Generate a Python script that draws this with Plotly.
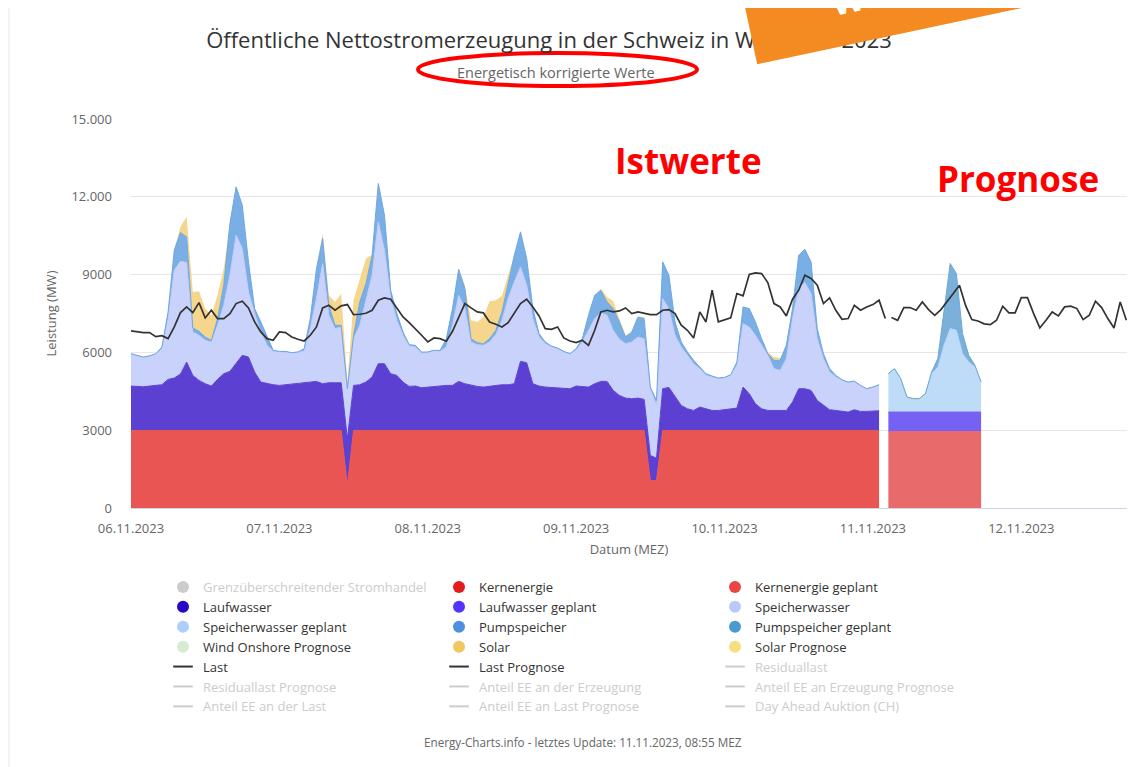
import pandas as pd
import plotly.graph_objects as go

# ---------------- data (MW, hourly, from 06.11.2023 00:00) ----------------
KERNENERGIE = [
    2990, 2990, 2990, 2990, 2990, 2990, 2990, 2990, 2990, 2990, 2990, 2990,
    2990, 2990, 2990, 2990, 2990, 2990, 2990, 2990, 2990, 2990, 2990, 2990,
    2990, 2990, 2990, 2990, 2990, 2990, 2990, 2990, 2990, 2990, 2990, 870,
    2990, 2990, 2990, 2990, 2990, 2990, 2990, 2990, 2990, 2990, 2990, 2990,
    2990, 2990, 2990, 2990, 2990, 2990, 2990, 2990, 2990, 2990, 2990, 2990,
    2990, 2990, 2990, 2990, 2990, 2990, 2990, 2990, 2990, 2990, 2990, 2990,
    2990, 2990, 2990, 2990, 2990, 2990, 2990, 2990, 2990, 2990, 2990, 2990,
    1060, 1060, 2990, 2990, 2990, 2990, 2990, 2990, 2990, 2990, 2990, 2990,
    2990, 2990, 2990, 2990, 2990, 2990, 2990, 2990, 2990, 2990, 2990, 2990,
    2990, 2990, 2990, 2990, 2990, 2990, 2990, 2990, 2990, 2990, 2990, 2990,
    2990, 2990,
]
LAUFWASSER = [
    1712, 1699, 1686, 1712, 1737, 1763, 1969, 2021, 2175, 2638, 2124, 1931,
    1802, 1712, 1969, 2188, 2278, 2574, 2896, 2831, 2252, 1866, 1802, 1763,
    1737, 1763, 1802, 1802, 1840, 1866, 1892, 1802, 1840, 1840, 1840, 1802,
    1737, 1763, 1866, 2059, 2574, 2574, 2188, 2124, 1866, 1699, 1712, 1647,
    1673, 1673, 1712, 1737, 1737, 1892, 1802, 1737, 1699, 1673, 1712, 1737,
    1763, 1763, 1802, 2664, 2613, 1802, 1712, 1673, 1660, 1634, 1609, 1609,
    1712, 1699, 1673, 1802, 1892, 1892, 1544, 1351, 1248, 1223, 1248, 1197,
    965, 862, 1609, 1660, 1287, 965, 837, 772, 901, 837, 772, 772,
    798, 837, 862, 1673, 1416, 1030, 837, 772, 772, 772, 772, 1094,
    1609, 1609, 1544, 1158, 965, 798, 772, 734, 708, 798, 734, 734,
    746, 759,
]
SPEICHERWASSER = [
    1248, 1171, 1145, 1158, 1197, 1390, 2342, 4157, 4350, 3835, 1673, 1737,
    1673, 1699, 2085, 2638, 3707, 4955, 4118, 2510, 2252, 1931, 1480, 1287,
    1287, 1261, 1197, 1223, 1210, 2059, 3192, 4633, 2600, 2085, 2149, 1931,
    1802, 2291, 3153, 3925, 5470, 4376, 2896, 2124, 1802, 1557, 1506, 1338,
    1351, 1416, 1338, 1480, 2317, 3320, 2896, 1673, 1609, 1609, 1699, 1956,
    2484, 3320, 3925, 3642, 2986, 2510, 1892, 1673, 1557, 1519, 1416, 1351,
    1377, 1712, 2188, 2510, 2651, 2548, 2317, 2162, 2098, 2188, 2355, 2342,
    2574, 2033, 3475, 3037, 2381, 2252, 2059, 1802, 1480, 1287, 1287, 1223,
    1223, 1287, 1647, 2445, 2574, 2638, 2445, 2124, 1609, 1544, 1995, 3218,
    3861, 4093, 3732, 2381, 1802, 1454, 1287, 1197, 1133, 1094, 1004, 875,
    927, 1004,
]
PUMPSPEICHER = [
    0, 26, 0, 0, 26, 64, 257, 772, 1107, 991, 154, 154,
    129, 64, 257, 772, 1995, 1866, 1673, 1158, 193, 386, 386, 39,
    26, 26, 0, 0, 103, 386, 1158, 965, 386, 129, 64, 0,
    129, 901, 644, 772, 1480, 1351, 322, 257, 129, 51, 64, 39,
    0, 0, 39, 322, 644, 1004, 772, 129, 77, 64, 129, 167,
    322, 644, 1030, 1351, 1030, 386, 129, 64, 39, 26, 26, 0,
    64, 129, 579, 901, 862, 515, 837, 669, 257, 386, 772, 772,
    64, 193, 1416, 1287, 515, 193, 129, 129, 64, 64, 39, 26,
    26, 26, 129, 644, 708, 515, 257, 64, 322, 386, 515, 386,
    1287, 1287, 1223, 386, 193, 129, 64, 26, 26, 13, 0, 0,
    0, 0,
]
SOLAR = [
    0, 0, 0, 0, 0, 0, 0, 0, 219, 772, 1390, 1544,
    1094, 965, 901, 644, 0, 0, 0, 0, 0, 0, 0, 0,
    0, 0, 0, 0, 0, 0, 0, 193, 386, 901, 1223, 257,
    1351, 901, 965, 26, 0, 0, 0, 0, 0, 0, 0, 0,
    0, 0, 0, 0, 0, 0, 129, 708, 798, 1030, 1441, 1158,
    618, 257, 0, 0, 0, 0, 0, 0, 0, 0, 0, 0,
    0, 0, 0, 0, 64, 193, 283, 129, 64, 0, 0, 64,
    0, 0, 0, 0, 0, 0, 0, 0, 0, 0, 0, 0,
    0, 0, 0, 0, 0, 0, 0, 64, 129, 90, 0, 0,
    0, 0, 0, 0, 0, 0, 0, 0, 0, 0, 0, 0,
    0, 0,
]
LAST = [
    6828, 6789, 6763, 6763, 6609, 6647, 6531, 6982, 7535, 7754, 7535, 7921,
    7329, 7625, 7304, 7304, 7497, 7883, 7973, 7716, 7175, 6789, 6531, 6467,
    6789, 6763, 6596, 6506, 6441, 6660, 6982, 7716, 7818, 7625, 7793, 7844,
    7458, 7471, 7510, 7625, 8012, 8102, 8050, 7716, 7368, 7149, 6918, 6660,
    6403, 6557, 6531, 6428, 6815, 7368, 7883, 7716, 7561, 7523, 7175, 7085,
    6982, 7149, 7535, 7883, 8050, 7754, 7407, 6918, 6892, 6982, 6557, 6441,
    6377, 6467, 6274, 6853, 7561, 7625, 7561, 7600, 7716, 7497, 7561, 7510,
    7458, 7458, 7625, 7651, 7497, 7046, 6853, 6557, 7561, 7175, 8398, 7175,
    7239, 7329, 8269, 8179, 9003, 9067, 9041, 8694, 7883, 7754, 7407, 8050,
    8398, 8977, 8848, 8591, 7883, 8102, 7625, 7278, 7304, 7818, 7625, 7754,
    7844, 8012, 7304,
]

# forecast (hourly, from 11.11.2023 02:30)
KERNENERGIE_GEPLANT = [2950] * 16
LAUFWASSER_GEPLANT = [750] * 16
SPEICHERWASSER_GEPLANT = [1480, 1673, 1287, 579, 515, 515, 708, 1480,
                          1737, 2574, 3218, 3153, 2252, 1931, 1737, 1158]
PUMPSPEICHER_GEPLANT = [0, 0, 0, 0, 0, 0, 0, 64,
                        322, 1222, 2509, 2188, 772, 257, 65, 0]
SOLAR_PROGNOSE = [0, 0, 0, 25, 35, 35, 25, 0,
                  0, 0, 0, 0, 0, 0, 0, 0]
# load forecast (hourly, from 11.11.2023 03:00)
LAST_PROGNOSE = [
    7343, 7239, 7728, 7728, 7625, 7947, 7651, 7432, 7651, 7947, 8269, 8590,
    7800, 7265, 7213, 7100, 7071, 7239, 7780, 7522, 7522, 8114, 8114, 7496,
    6943, 7239, 7561, 7407, 7754, 7780, 7690, 7265, 7432, 7973, 7728, 7304,
    6943, 7947, 7239,
]

X_TICKS = ["2023-11-06", "2023-11-07", "2023-11-08", "2023-11-09",
           "2023-11-10", "2023-11-11", "2023-11-12"]
X_TICKTEXT = ["06.11.2023", "07.11.2023", "08.11.2023", "09.11.2023",
              "10.11.2023", "11.11.2023", "12.11.2023"]
Y_TICKS = [0, 3000, 6000, 9000, 12000, 15000]
Y_TICKTEXT = ["0", "3000", "6000", "9000", "12.000", "15.000"]

# legend entries: (name, kind, symbol colour, active)
LEGEND = [
    ("Grenzüberschreitender Stromhandel", "dot", "#cccccc", False),
    ("Kernenergie", "dot", "#e31d1d", True),
    ("Kernenergie geplant", "dot", "#e84545", True),
    ("Laufwasser", "dot", "#2608c6", True),
    ("Laufwasser geplant", "dot", "#5233ff", True),
    ("Speicherwasser", "dot", "#bcc8fa", True),
    ("Speicherwasser geplant", "dot", "#acd0fa", True),
    ("Pumpspeicher", "dot", "#4d90db", True),
    ("Pumpspeicher geplant", "dot", "#4a9ad2", True),
    ("Wind Onshore Prognose", "dot", "#d5ecd0", True),
    ("Solar", "dot", "#f0c860", True),
    ("Solar Prognose", "dot", "#f6df80", True),
    ("Last", "line", "#333333", True),
    ("Last Prognose", "line", "#333333", True),
    ("Residuallast", "line", "#cccccc", False),
    ("Residuallast Prognose", "line", "#cccccc", False),
    ("Anteil EE an der Erzeugung", "line", "#cccccc", False),
    ("Anteil EE an Erzeugung Prognose", "line", "#cccccc", False),
    ("Anteil EE an der Last", "line", "#cccccc", False),
    ("Anteil EE an Last Prognose", "line", "#cccccc", False),
    ("Day Ahead Auktion (CH)", "line", "#cccccc", False),
]

# ---------------- figure ----------------
# the page body adds an 8px offset; layout positions below are given in
# screen pixels and converted
OFF = 8
W, H = 1144, 767
ML, MR, MT, MB = 123, 25, 111, 267
PW, PH = W - ML - MR, H - MT - MB


def px(xs):
    return ((xs - OFF) - ML) / PW


def py(ys):
    return (H - MB - (ys - OFF)) / PH


t_ist = pd.date_range("2023-11-06 00:00", periods=len(KERNENERGIE), freq="h")
t_last = pd.date_range("2023-11-06 00:00", periods=len(LAST), freq="h")
t_prog = pd.date_range("2023-11-11 02:30", periods=len(KERNENERGIE_GEPLANT), freq="h")
t_lastprog = pd.date_range("2023-11-11 03:00", periods=len(LAST_PROGNOSE), freq="h")

fig = go.Figure()


def area(x, y, fill, line, group, lw=1):
    fig.add_trace(go.Scatter(
        x=x, y=y, stackgroup=group, mode="lines",
        line=dict(width=lw, color=line), fillcolor=fill,
        showlegend=False, hoverinfo="skip"))


area(t_ist, KERNENERGIE, "#e95552", "#e95552", "ist")
area(t_ist, LAUFWASSER, "#5b40d2", "#5b40d2", "ist")
area(t_ist, SPEICHERWASSER, "#c8d2fa", "#c0cbf8", "ist")
area(t_ist, PUMPSPEICHER, "#7aafe6", "#6ea6e2", "ist")
area(t_ist, SOLAR, "#f5d68c", "#f5d68c", "ist", lw=0)

area(t_prog, KERNENERGIE_GEPLANT, "#e96a6a", "#e96a6a", "prog")
area(t_prog, LAUFWASSER_GEPLANT, "#7562f4", "#7562f4", "prog")
area(t_prog, SPEICHERWASSER_GEPLANT, "#bedbf8", "#b4d4f6", "prog")
area(t_prog, PUMPSPEICHER_GEPLANT, "#7ab0da", "#6ea8d6", "prog")
area(t_prog, SOLAR_PROGNOSE, "#f5dc7a", "#f5dc7a", "prog", lw=0)

fig.add_trace(go.Scatter(x=t_last, y=LAST, mode="lines",
                         line=dict(color="#333333", width=1.7),
                         showlegend=False, hoverinfo="skip"))
fig.add_trace(go.Scatter(x=t_lastprog, y=LAST_PROGNOSE, mode="lines",
                         line=dict(color="#333333", width=1.7),
                         showlegend=False, hoverinfo="skip"))

# legend-only entries
for name, kind, col, active in LEGEND:
    label_txt = name if active else "<span style='color:#cccccc'>%s</span>" % name
    if kind == "dot":
        marker = dict(symbol="circle", size=12, color=col)
    else:
        marker = dict(symbol="line-ew", size=14, color=col,
                      line=dict(width=2, color=col))
    fig.add_trace(go.Scatter(x=[None], y=[None], mode="markers", name=label_txt,
                             marker=marker, showlegend=True, hoverinfo="skip"))

FONT = "Open Sans, Noto Sans, sans-serif"


def label(text, xs, ys, size, color, **kw):
    d = dict(text=text, x=px(xs), y=py(ys), xref="paper", yref="paper",
             showarrow=False, xanchor="center", yanchor="middle",
             font=dict(size=size, color=color, family=FONT))
    d.update(kw)
    return d


annotations = [
    label("Energetisch korrigierte Werte", 556, 72, 14.5, "#666666"),
    label("<b>Istwerte</b>", 688, 160, 35, "#ff0000"),
    label("<b>Prognose</b>", 1018, 178, 35, "#ff0000"),
    label("Energy-Charts.info - letztes Update: 11.11.2023, 08:55 MEZ",
          583, 742, 11.7, "#666666"),
    # orange banner covering part of the title
    dict(text="&nbsp;", x=px(949), y=py(-43.3), xref="paper", yref="paper",
         showarrow=False, width=420, height=130, bgcolor="#f38b22",
         borderpad=0, borderwidth=0, textangle=-12,
         xanchor="center", yanchor="middle"),
    label("<b>WICHTIG</b>", 903, -12, 34, "#ffffff", textangle=-12),
]

shapes = [
    dict(type="line", xref="paper", yref="paper",
         x0=px(9), x1=px(9), y0=py(8.5), y1=py(767),
         line=dict(color="#e6e6e6", width=1), layer="below"),
    dict(type="circle", xref="paper", yref="paper",
         x0=px(418), x1=px(697), y0=py(86), y1=py(53),
         line=dict(color="#ff0000", width=4), layer="above"),
]

fig.update_layout(
    width=W, height=H,
    margin=dict(l=ML, r=MR, t=MT, b=MB),
    paper_bgcolor="white", plot_bgcolor="white",
    font=dict(family=FONT, color="#666666", size=12),
    title=dict(text="Öffentliche Nettostromerzeugung in der Schweiz in Woche 45 2023",
               x=(549 - OFF) / W, xanchor="center", xref="container",
               y=1 - (40 - OFF) / H, yanchor="middle", yref="container",
               font=dict(size=22, color="#333333", family=FONT)),
    xaxis=dict(type="date",
               range=["2023-11-06 00:00", "2023-11-12 17:06"],
               tickvals=X_TICKS, ticktext=X_TICKTEXT,
               showgrid=False, showline=True, linecolor="#ccd6eb", linewidth=1,
               ticks="", ticklabelstandoff=8,
               tickfont=dict(size=13, color="#666666"),
               title=dict(text="Datum (MEZ)", standoff=9,
                          font=dict(size=13, color="#666666")),
               zeroline=False),
    yaxis=dict(range=[0, 15000], tickvals=Y_TICKS, ticktext=Y_TICKTEXT,
               showgrid=True, gridcolor="#e6e6e6", gridwidth=1,
               zeroline=False, showline=False, ticks="",
               ticklabelstandoff=18,
               tickfont=dict(size=13, color="#666666"),
               title=dict(text="Leistung (MW)", standoff=11,
                          font=dict(size=13, color="#666666"))),
    legend=dict(orientation="h", x=px(163), y=py(572),
                xanchor="left", yanchor="top",
                entrywidth=231, entrywidthmode="pixels",
                font=dict(size=13, color="#333333", family=FONT),
                bgcolor="rgba(0,0,0,0)", traceorder="normal",
                itemclick=False, itemdoubleclick=False),
    annotations=annotations,
    shapes=shapes,
    showlegend=True,
)

fig.write_html("out.html")
